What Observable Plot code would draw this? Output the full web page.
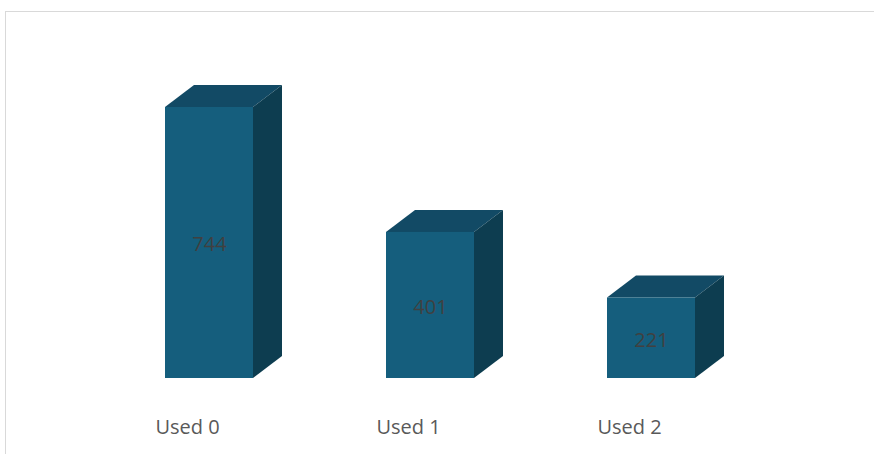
<!DOCTYPE html>
<html>
<head>
<meta charset="utf-8">
<script src="https://cdn.jsdelivr.net/npm/d3@7"></script>
<script src="https://cdn.jsdelivr.net/npm/@observablehq/plot@0.6"></script>
<style>
  html, body { margin: 0; padding: 0; background: #ffffff; overflow: hidden; }
  #wrap { position: relative; width: 874px; height: 454px; overflow: hidden; }
  #border { position: absolute; left: 5px; top: 11px; width: 900px; height: 500px; border: 1px solid #d9d9d9; box-sizing: border-box; }
  #chart { position: absolute; left: 0; top: 0; }
</style>
</head>
<body>
<div id="wrap"><div id="border"></div><div id="chart"></div></div>
<script>
const categories = ["Used 0", "Used 1", "Used 2"];
const values = [744, 401, 221];

const data = categories.map((c, i) => ({category: c, value: values[i]}));

const FRONT = "#155e7d";
const TOP = "#124a65";
const SIDE = "#0d3d50";
const DEPTH_X = 29, DEPTH_Y = 22;

function faces(index, scales) {
  const x = scales.x, y = scales.y;
  const bw = x.bandwidth ? x.bandwidth() : 88;
  const g = d3.create("svg:g");
  for (const d of data) {
    const x0 = x(d.category), x1 = x0 + bw;
    const yt = y(d.value), yb = y(0);
    g.append("path")
      .attr("d", `M${x0},${yt}L${x0 + DEPTH_X},${yt - DEPTH_Y}L${x1 + DEPTH_X},${yt - DEPTH_Y}L${x1},${yt}Z`)
      .attr("fill", TOP);
    g.append("path")
      .attr("d", `M${x1},${yt}L${x1 + DEPTH_X},${yt - DEPTH_Y}L${x1 + DEPTH_X},${yb - DEPTH_Y}L${x1},${yb}Z`)
      .attr("fill", SIDE);
  }
  return g.node();
}

const chart = Plot.plot({
  width: 874,
  height: 454,
  marginTop: 0, marginBottom: 0, marginLeft: 0, marginRight: 0,
  style: {background: "transparent", fontFamily: "'Open Sans', sans-serif"},
  x: {domain: categories, range: [32.4, 828], padding: 0.6, axis: null},
  y: {domain: [0, 744], range: [378, 107], axis: null},
  marks: [
    faces,
    Plot.barY(data, {x: "category", y: "value", fill: FRONT}),
    Plot.text(data, {x: "category", y: d => d.value / 2, text: d => String(d.value), fill: "#404040", fontSize: 20, dy: 2}),
    Plot.text(data, {x: "category", y: 0, text: "category", fill: "#595959", fontSize: 20, dy: 49, dx: -22})
  ]
});
document.getElementById("chart").appendChild(chart);
</script>
</body>
</html>
